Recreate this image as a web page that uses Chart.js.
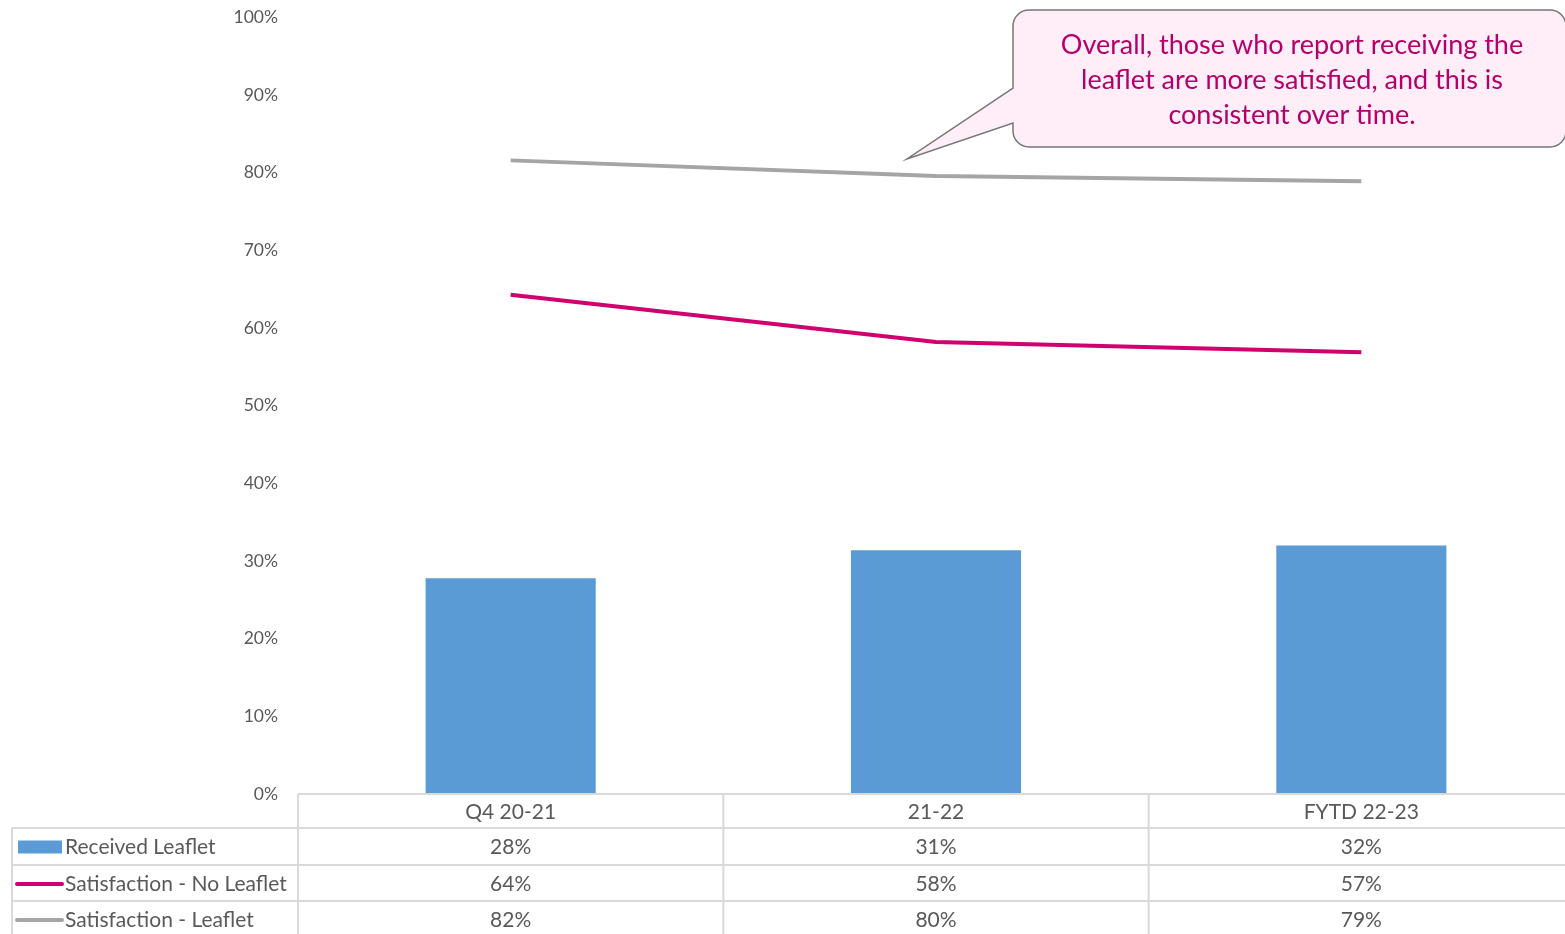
<!DOCTYPE html>
<html>
<head>
<meta charset="utf-8">
<script src="https://cdn.jsdelivr.net/npm/chart.js@4"></script>
<style>
  html, body { margin: 0; padding: 0; background: #fff; overflow: hidden; }
  #wrap { width: 1574px; height: 947px; margin-top: -13px; }
</style>
</head>
<body>
<div id="wrap"><canvas id="chart"></canvas></div>
<script>
const categories = ['Q4 20-21', '21-22', 'FYTD 22-23'];
const receivedLeaflet = [27.8, 31.4, 32.0];
const satisfactionNoLeaflet = [64.3, 58.2, 56.9];
const satisfactionLeaflet = [81.6, 79.6, 78.9];
const yTicks = [0, 10, 20, 30, 40, 50, 60, 70, 80, 90, 100];
const calloutLines = [
    'Overall, those who report receiving the',
    'leaflet are more satisfied, and this is',
    'consistent over time.'
];

const FONT = 'Lato, "Open Sans", sans-serif';
const TEXT = '#595959';
const GRID = '#d9d9d9';
const SHIFT = 13; // canvas is pulled up by this much

// data table under the plot, columns follow the x scale
const tablePlugin = {
    id: 'dataTable',
    afterDraw(chart) {
        const ctx = chart.ctx;
        const area = chart.chartArea;
        const x = chart.scales.x;
        const rows = [
            { name: 'Received Leaflet', data: receivedLeaflet, type: 'bar', color: '#5b9bd5' },
            { name: 'Satisfaction - No Leaflet', data: satisfactionNoLeaflet, type: 'line', color: '#d0006f' },
            { name: 'Satisfaction - Leaflet', data: satisfactionLeaflet, type: 'line', color: '#a5a5a5' }
        ];
        const top = area.bottom;
        const rowY = [top, top + 34, top + 71, top + 107, top + 143];
        const leftX = 12;
        const step = x.getPixelForValue(1) - x.getPixelForValue(0);
        const edges = categories.map((c, i) => x.getPixelForValue(i) - step / 2);
        edges.push(x.getPixelForValue(categories.length - 1) + step / 2);

        ctx.save();
        ctx.strokeStyle = GRID;
        ctx.lineWidth = 2;
        ctx.beginPath();
        ctx.moveTo(area.left, rowY[0]); ctx.lineTo(area.right, rowY[0]);
        for (let r = 1; r < 4; r++) {
            ctx.moveTo(leftX, rowY[r]); ctx.lineTo(area.right, rowY[r]);
        }
        ctx.moveTo(leftX, rowY[1]); ctx.lineTo(leftX, rowY[4]);
        edges.forEach((ex, i) => {
            if (i === edges.length - 1) return;
            ctx.moveTo(ex, rowY[0]); ctx.lineTo(ex, rowY[4]);
        });
        ctx.stroke();

        ctx.font = '21px ' + FONT;
        ctx.fillStyle = TEXT;
        ctx.textAlign = 'center';
        ctx.textBaseline = 'middle';
        categories.forEach((c, i) => {
            ctx.fillText(c, x.getPixelForValue(i), (rowY[0] + rowY[1]) / 2 + 1);
        });
        rows.forEach((row, r) => {
            const cy = (rowY[r + 1] + rowY[r + 2]) / 2 + 1;
            if (row.type === 'bar') {
                ctx.fillStyle = row.color;
                ctx.fillRect(18, cy - 7, 44, 13);
            } else {
                ctx.strokeStyle = row.color;
                ctx.lineWidth = 4;
                ctx.lineCap = 'round';
                ctx.beginPath();
                ctx.moveTo(17, cy); ctx.lineTo(62, cy);
                ctx.stroke();
            }
            ctx.fillStyle = TEXT;
            ctx.textAlign = 'left';
            ctx.fillText(row.name, 65, cy);
            ctx.textAlign = 'center';
            row.data.forEach((v, i) => {
                ctx.fillText(Math.round(v) + '%', x.getPixelForValue(i), cy);
            });
        });
        ctx.restore();
    }
};

// speech bubble annotation
const calloutPlugin = {
    id: 'callout',
    afterDraw(chart) {
        const ctx = chart.ctx;
        const l = 1013, t = 10 + SHIFT, r = 1566, b = 147 + SHIFT, rad = 16;
        const tipX = 907, tipY = 159 + SHIFT, p1 = 88 + SHIFT, p2 = 123 + SHIFT;
        ctx.save();
        ctx.beginPath();
        ctx.moveTo(l + rad, t);
        ctx.lineTo(r - rad, t);
        ctx.arcTo(r, t, r, t + rad, rad);
        ctx.lineTo(r, b - rad);
        ctx.arcTo(r, b, r - rad, b, rad);
        ctx.lineTo(l + rad, b);
        ctx.arcTo(l, b, l, b - rad, rad);
        ctx.lineTo(l, p2);
        ctx.lineTo(tipX, tipY);
        ctx.lineTo(l, p1);
        ctx.lineTo(l, t + rad);
        ctx.arcTo(l, t, l + rad, t, rad);
        ctx.closePath();
        ctx.fillStyle = '#ffeef8';
        ctx.fill();
        ctx.strokeStyle = '#767676';
        ctx.lineWidth = 1.5;
        ctx.stroke();

        ctx.font = '27px ' + FONT;
        ctx.fillStyle = '#b4006a';
        ctx.textAlign = 'center';
        ctx.textBaseline = 'middle';
        calloutLines.forEach((line, i) => {
            ctx.fillText(line, 1292, 45 + SHIFT + i * 35);
        });
        ctx.restore();
    }
};

const ctx = document.getElementById('chart').getContext('2d');
new Chart(ctx, {
    data: {
        labels: categories,
        datasets: [
            {
                type: 'line',
                label: 'Satisfaction - Leaflet',
                data: satisfactionLeaflet,
                borderColor: '#a5a5a5',
                borderWidth: 4,
                pointRadius: 0,
                tension: 0,
                order: 1
            },
            {
                type: 'line',
                label: 'Satisfaction - No Leaflet',
                data: satisfactionNoLeaflet,
                borderColor: '#d0006f',
                borderWidth: 4,
                pointRadius: 0,
                tension: 0,
                order: 1
            },
            {
                type: 'bar',
                label: 'Received Leaflet',
                data: receivedLeaflet,
                backgroundColor: '#5b9bd5',
                barPercentage: 0.4,
                categoryPercentage: 1,
                order: 2
            }
        ]
    },
    options: {
        responsive: true,
        maintainAspectRatio: false,
        animation: false,
        layout: { padding: { top: 5, bottom: 140, left: 0, right: 0 } },
        plugins: {
            legend: { display: false },
            tooltip: { enabled: false }
        },
        scales: {
            x: {
                display: false
            },
            y: {
                min: 0,
                max: 100,
                afterFit(scale) { scale.width = 298; },
                afterBuildTicks(scale) { scale.ticks = yTicks.map(v => ({ value: v })); },
                grid: { display: false, drawTicks: false },
                border: { display: false },
                ticks: {
                    padding: 20,
                    color: TEXT,
                    font: { family: FONT, size: 17.5 },
                    callback: v => v + '%'
                }
            }
        }
    },
    plugins: [tablePlugin, calloutPlugin]
});
</script>
</body>
</html>
